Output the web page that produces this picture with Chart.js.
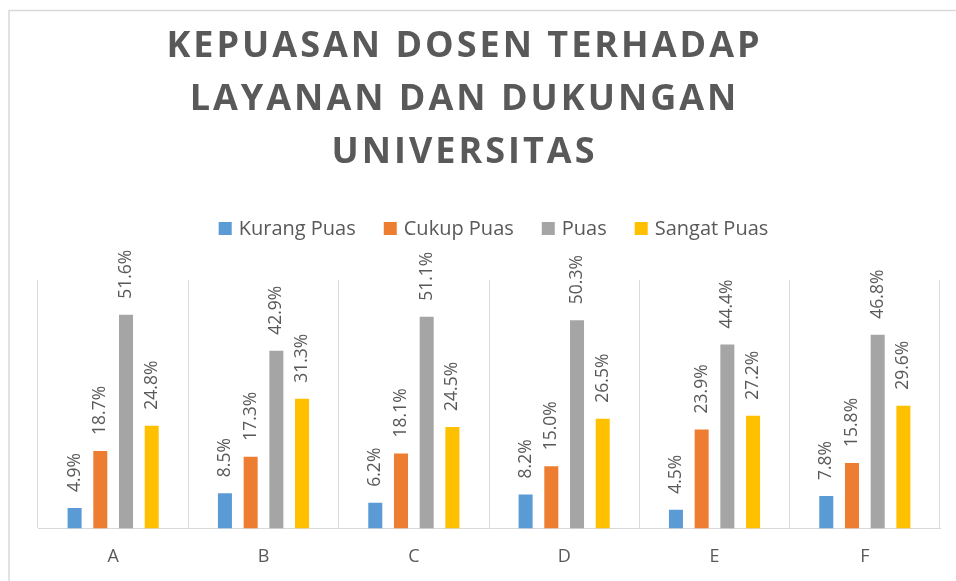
<!DOCTYPE html>
<html>
<head>
<meta charset="utf-8">
<script src="https://cdn.jsdelivr.net/npm/chart.js@4"></script>
<style>
  html, body { margin: 0; padding: 0; background: #fff; overflow: hidden; }
  #wrap { width: 956px; height: 581px; position: relative; }
</style>
</head>
<body>
<div id="wrap"><canvas id="chart"></canvas></div>
<script>
// Survey results per category (percent)
const categories = ['A', 'B', 'C', 'D', 'E', 'F'];
const kurangPuas = [4.9, 8.5, 6.2, 8.2, 4.5, 7.8];
const cukupPuas = [18.7, 17.3, 18.1, 15.0, 23.9, 15.8];
const puas = [51.6, 42.9, 51.1, 50.3, 44.4, 46.8];
const sangatPuas = [24.8, 31.3, 24.5, 26.5, 27.2, 29.6];
const seriesNames = ['Kurang Puas', 'Cukup Puas', 'Puas', 'Sangat Puas'];
const titleLines = ['KEPUASAN DOSEN TERHADAP', 'LAYANAN DAN DUKUNGAN', 'UNIVERSITAS'];

const colors = ['#5B9BD5', '#ED7D31', '#A5A5A5', '#FFC000'];
const textColor = '#595959';
const font = '"Open Sans", sans-serif';

// border, title and legend drawn by hand so the spacing can match
const decorPlugin = {
  id: 'decor',
  beforeDraw(chart) {
    const ctx = chart.ctx;
    ctx.save();
    ctx.strokeStyle = '#d9d9d9';
    ctx.lineWidth = 1.5;
    ctx.beginPath();
    ctx.moveTo(9, 600);
    ctx.lineTo(9, 10.5);
    ctx.lineTo(980, 10.5);
    ctx.stroke();

    // title
    ctx.fillStyle = textColor;
    ctx.font = 'bold 36px ' + font;
    ctx.letterSpacing = '3px';
    ctx.textBaseline = 'alphabetic';
    ctx.textAlign = 'left';
    const baselines = [57, 110, 163];
    titleLines.forEach((line, i) => {
      const w = ctx.measureText(line).width - 3;
      ctx.fillText(line, 463 - w / 2, baselines[i]);
    });
    ctx.letterSpacing = '0px';

    // legend
    ctx.font = '20px ' + font;
    ctx.textBaseline = 'middle';
    const box = 13, gap = 7, spacing = 28;
    const widths = seriesNames.map(n => box + gap + ctx.measureText(n).width);
    const total = widths.reduce((a, b) => a + b, 0) + spacing * (seriesNames.length - 1);
    let x = 493.5 - total / 2;
    seriesNames.forEach((n, i) => {
      ctx.fillStyle = colors[i];
      ctx.fillRect(x, 222, box, box);
      ctx.fillStyle = textColor;
      ctx.fillText(n, x + box + gap, 229);
      x += widths[i] + spacing;
    });
    ctx.restore();
  },
  afterDatasetsDraw(chart) {
    const ctx = chart.ctx;
    ctx.save();
    ctx.fillStyle = textColor;
    ctx.font = '17.5px ' + font;
    ctx.textAlign = 'left';
    ctx.textBaseline = 'middle';
    chart.data.datasets.forEach((ds, di) => {
      chart.getDatasetMeta(di).data.forEach((bar, i) => {
        ctx.save();
        ctx.translate(bar.x, bar.y - 16);
        ctx.rotate(-Math.PI / 2);
        ctx.fillText(ds.data[i].toFixed(1) + '%', 0, 0);
        ctx.restore();
      });
    });
    ctx.restore();
  }
};

const seriesData = [kurangPuas, cukupPuas, puas, sangatPuas];

new Chart(document.getElementById('chart'), {
  type: 'bar',
  data: {
    labels: categories,
    datasets: seriesNames.map((name, i) => ({
      label: name,
      data: seriesData[i],
      backgroundColor: colors[i],
      categoryPercentage: 0.684,
      barPercentage: 0.545
    }))
  },
  options: {
    responsive: true,
    maintainAspectRatio: false,
    animation: false,
    layout: { padding: { top: 280, left: 38, right: 16, bottom: -5 } },
    plugins: {
      legend: { display: false },
      title: { display: false },
      tooltip: { enabled: false }
    },
    scales: {
      x: {
        grid: { display: true, offset: true, drawTicks: false, color: '#d9d9d9', lineWidth: 1 },
        border: { display: true, color: '#d9d9d9', width: 1 },
        ticks: { color: textColor, font: { family: font, size: 18 }, padding: 18 }
      },
      y: { display: false, min: 0, max: 60 }
    }
  },
  plugins: [decorPlugin]
});
</script>
</body>
</html>
